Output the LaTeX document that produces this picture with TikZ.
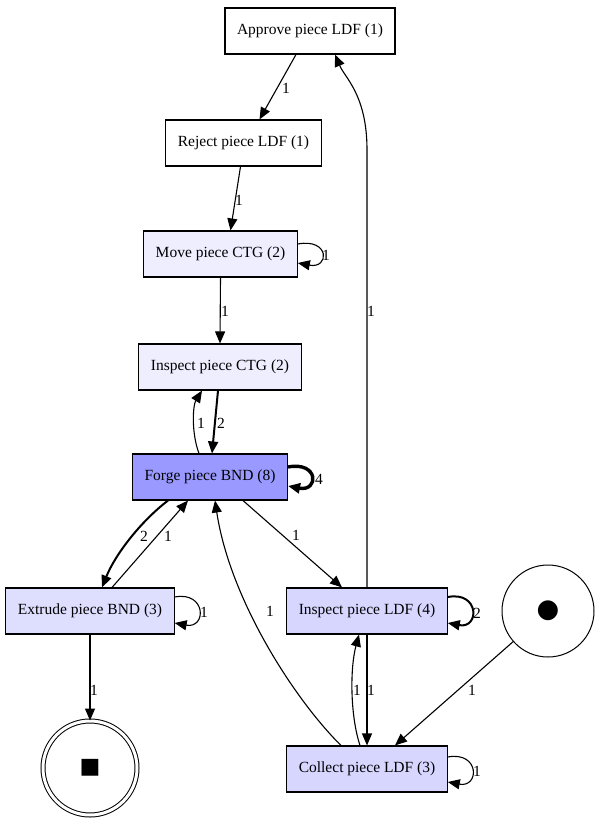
\documentclass[tikz,border=0pt]{standalone}
\usepackage{fontspec}
\setmainfont{Liberation Serif}
\newfontfamily\symfont{DejaVu Sans}
\usetikzlibrary{arrows.meta}
\definecolor{freqEight}{RGB}{153,153,255}
\definecolor{freqFour}{RGB}{214,214,255}
\definecolor{freqThree}{RGB}{222,222,255}
\definecolor{freqTwo}{RGB}{238,238,255}
\begin{document}
\begin{tikzpicture}[x=1pt,y=-1pt,
    font=\fontsize{15.5}{18}\selectfont,
    act/.style={draw, rectangle, line width=1.1pt, minimum height=46pt, inner xsep=12pt},
    circ/.style={draw, circle, line width=1pt},
    arr/.style={-{Triangle[length=12pt,width=10pt]}, line width=1.1pt},
    arrtwo/.style={arr, line width=2pt},
    arrfour/.style={arr, line width=3.4pt},
    lbl/.style={inner sep=1pt}]
    \useasboundingbox (0,0) rectangle (600,824);

    % Attivita
    \node[act, fill=white]      (approve) at (310,31)    {Approve piece LDF (1)};
    \node[act, fill=white]      (reject)  at (243.5,143) {Reject piece LDF (1)};
    \node[act, fill=freqTwo]    (move)    at (220.5,254) {Move piece CTG (2)};
    \node[act, fill=freqTwo]    (ictg)    at (220,367)   {Inspect piece CTG (2)};
    \node[act, fill=freqEight]  (forge)   at (210,477)   {Forge piece BND (8)};
    \node[act, fill=freqThree]  (extrude) at (90,611)    {Extrude piece BND (3)};
    \node[act, fill=freqFour]   (ildf)    at (367,611)   {Inspect piece LDF (4)};
    \node[act, fill=freqFour]   (collect) at (367,769)   {Collect piece LDF (3)};

    % Inizio e fine
    \node[circ, minimum size=92pt] (start) at (548,611) {\symfont\fontsize{26}{26}\selectfont ●};
    \node[circ, double, double distance=3pt, minimum size=94pt] (end) at (90,768)
        {\symfont\fontsize{22}{22}\selectfont ■};

    % Archi
    \draw[arr] ([xshift=-14pt]approve.south) -- ([xshift=16pt]reject.north)
        node[lbl] at (286,88) {1};
    \draw[arr] ([xshift=-3pt]reject.south) -- ([xshift=10pt]move.north)
        node[lbl] at (239,200) {1};
    \draw[arr] (move.south) -- (ictg.north)
        node[lbl] at (225,311) {1};
    \draw[arrtwo] ([xshift=-2pt]ictg.south) -- ([xshift=2pt]forge.north)
        node[lbl] at (221,423) {2};
    \draw[arr] ([xshift=-11pt]forge.north) .. controls (191,432) and (193,405) .. ([xshift=-18pt]ictg.south)
        node[lbl] at (201,423) {1};
    \draw[arrtwo] ([xshift=-42pt]forge.south) .. controls (140,522) and (115,555) .. ([xshift=12pt]extrude.north)
        node[lbl] at (144,536) {2};
    \draw[arr] ([xshift=22pt]extrude.north) -- ([xshift=-22pt]forge.south)
        node[lbl] at (168,536) {1};
    \draw[arr] ([xshift=33pt]forge.south) -- ([xshift=-25pt]ildf.north)
        node[lbl] at (296,535) {1};
    \draw[arr] ([xshift=-26pt]collect.north) .. controls (295,700) and (230,600) .. ([xshift=5pt]forge.south)
        node[lbl] at (270,611) {1};
    \draw[arr] (ildf.north) -- (367,150) .. controls (367,95) and (345,78) .. ([xshift=25pt]approve.south)
        node[lbl] at (371,311) {1};
    \draw[arr] (ildf.south) -- (collect.north)
        node[lbl] at (371,690) {1};
    \draw[arr] ([xshift=-7pt]collect.north) .. controls (350,715) and (350,668) .. ([xshift=-8pt]ildf.south)
        node[lbl] at (357,690) {1};
    \draw[arr] (start) -- ([xshift=28pt]collect.north)
        node[lbl] at (472,690) {1};
    \draw[arr] (extrude.south) -- (end.north)
        node[lbl] at (94,690) {1};

    % Cappi
    \draw[arr] ([yshift=10pt]move.east) .. controls +(32,-6) and +(32,6) .. ([yshift=-9pt]move.east)
        node[lbl] at (326,255) {1};
    \draw[arrfour] ([yshift=10pt]forge.east) .. controls +(31,-6) and +(31,6) .. ([yshift=-9pt]forge.east)
        node[lbl] at (319,479) {4};
    \draw[arr] ([yshift=14pt]extrude.east) .. controls +(32,-6) and +(32,6) .. ([yshift=-12pt]extrude.east)
        node[lbl] at (204,612) {1};
    \draw[arrtwo] ([yshift=14pt]ildf.east) .. controls +(32,-6) and +(32,6) .. ([yshift=-12pt]ildf.east)
        node[lbl] at (477,613) {2};
    \draw[arr] ([yshift=12pt]collect.east) .. controls +(32,-6) and +(32,6) .. ([yshift=-13pt]collect.east)
        node[lbl] at (477,771) {1};
\end{tikzpicture}
\end{document}
